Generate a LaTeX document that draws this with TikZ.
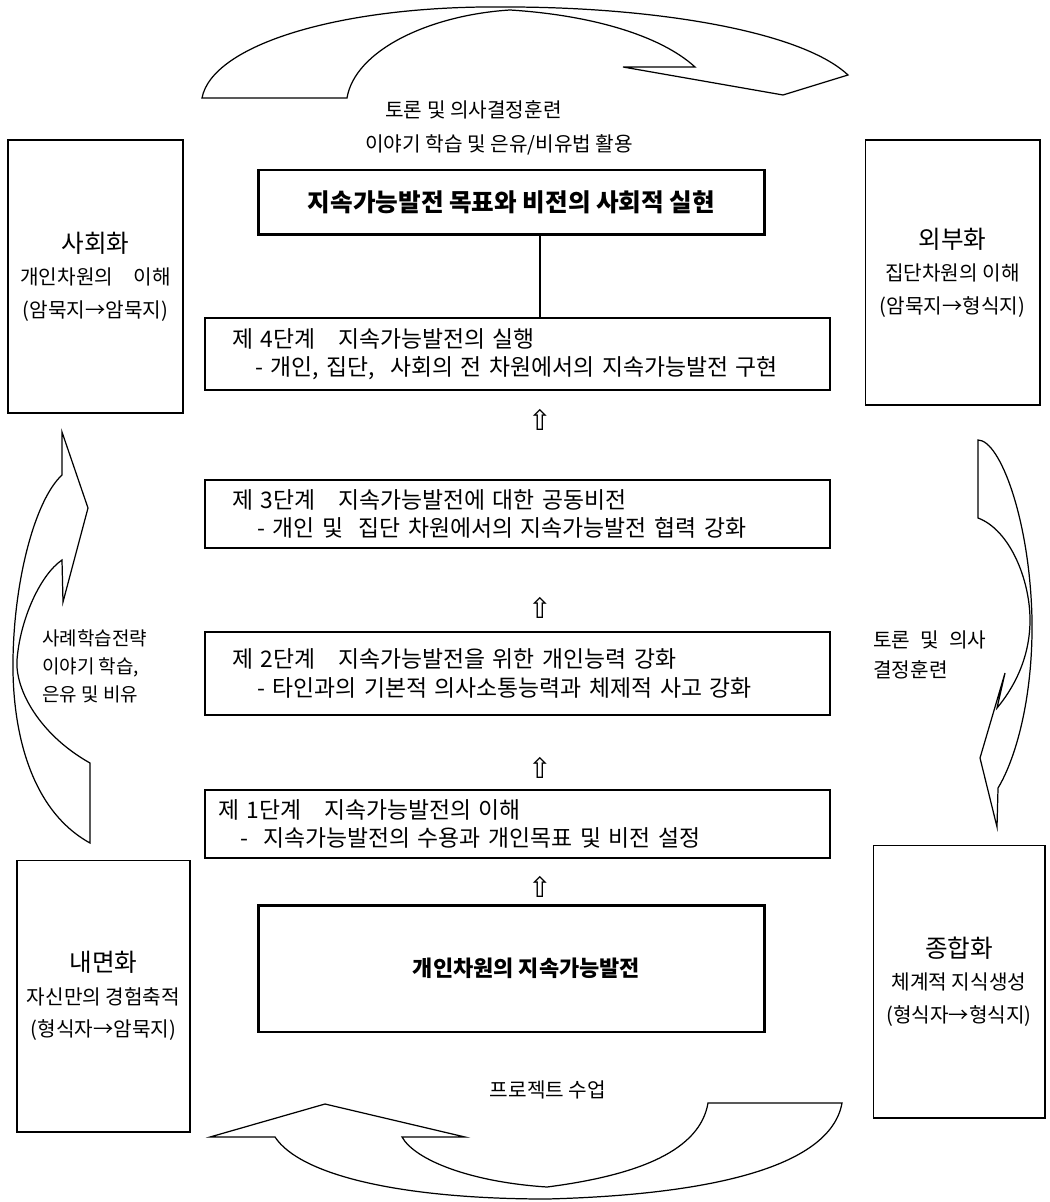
\documentclass[tikz,border=0pt]{standalone}
\usepackage{fontspec}
\setmainfont{Noto Sans CJK KR}
\newfontfamily\symfont{DejaVu Sans}
\tikzset{sb/.append style={draw,line width=1.3pt,minimum width=12.5cm,inner xsep=0.54cm,text width=11.42cm,align=left,font=\fontsize{13}{16}\selectfont}}
\tikzset{gb/.append style={draw,line width=1.7pt,minimum width=10.14cm,font=\fontsize{14}{16}\selectfont\bfseries}}
\tikzset{kb/.append style={draw,line width=0.6pt,minimum width=3.5cm,align=center,font=\fontsize{11.5}{18.5}\selectfont}}
\tikzset{ca/.append style={draw,line width=0.7pt,line join=miter}}
\tikzset{ua/.append style={font=\symfont\fontsize{16}{16}\selectfont}}
\tikzset{lb/.append style={inner sep=0pt,font=\fontsize{11.5}{17}\selectfont}}

\begin{document}
\begin{tikzpicture}[x=0.02cm,y=-0.02cm]
                \useasboundingbox (0,0) rectangle (1050,1202);
                % stages
                \node[gb,minimum height=1.3cm] (goal) at (511.5,202.5) {지속가능발전 목표와 비전의 사회적 실현};
                \node[sb,minimum height=1.44cm] (s4) at (517.5,354) {제 4단계\quad 지속가능발전의 실행\\\hspace*{0.46cm}- 개인, 집단,\ \ 사회의 전 차원에서의 지속가능발전 구현};
                \node[sb,minimum height=1.36cm] (s3) at (517.5,514) {제 3단계\quad 지속가능발전에 대한 공동비전\\\hspace*{0.5cm}- 개인 및\ \ 집단 차원에서의 지속가능발전 협력 강화};
                \node[sb,minimum height=1.66cm] (s2) at (517.5,673.5) {제 2단계\quad 지속가능발전을 위한 개인능력 강화\\\hspace*{0.5cm}- 타인과의 기본적 의사소통능력과 체제적 사고 강화};
                \node[sb,minimum height=1.36cm,inner xsep=0.26cm,text width=11.98cm] (s1) at (517.5,824) {제 1단계\quad 지속가능발전의 이해\\\hspace*{0.44cm}-\ \ 지속가능발전의 수용과 개인목표 및 비전 설정};
                \node[gb,minimum height=2.54cm,font=\fontsize{12.5}{16}\selectfont\bfseries] (base) at (511.5,968.5) {\hspace*{0.6cm}개인차원의 지속가능발전};
                \coordinate (lx) at (540,0);
                \draw[line width=0.6pt] (goal.south -| lx) -- (s4.north -| lx);
                \node[ua] (u4) at (540,420) {⇧};
                \node[ua] (u3) at (540,608) {⇧};
                \node[ua] (u2) at (540,768) {⇧};
                \node[ua] (u1) at (540,887) {⇧};
                % SECI boxes
                \node[kb,minimum height=5.46cm] (soc) at (95.5,276.5) {{\fontsize{14}{18}\selectfont 사회화}\\개인차원의\quad 이해\\(암묵지→암묵지)};
                \node[kb,minimum height=5.3cm] (ext) at (952.5,272.5) {{\fontsize{14}{18}\selectfont 외부화}\\집단차원의 이해\\(암묵지→형식지)};
                \node[kb,minimum width=3.46cm,minimum height=5.44cm] (int) at (103.5,996) {{\fontsize{14}{18}\selectfont 내면화}\\자신만의 경험축적\\(형식자→암묵지)};
                \node[kb,minimum width=3.44cm,minimum height=5.46cm] (com) at (959,981.5) {{\fontsize{14}{18}\selectfont 종합화}\\체계적 지식생성\\(형식자→형식지)};
                % labels
                \node[lb,anchor=west] (t1) at (385,110) {토론 및 의사결정훈련};
                \node[lb,anchor=west] (t2) at (365,145) {이야기 학습 및 은유/비유법 활용};
                \node[lb,anchor=west,align=left,font=\fontsize{10.8}{16}\selectfont] (lc) at (42,666) {사례학습전략\\이야기 학습,\\은유 및 비유};
                \node[lb,anchor=west,align=left,font=\fontsize{11.5}{17}\selectfont] (rc) at (873,655) {토론\enspace 및\enspace 의사\\결정훈련};
                \node[lb] (pj) at (548,1090) {프로젝트 수업};
                % curved arrows
                \draw[ca] (202,98) -- (347,98) .. controls (355,50) and (430,15) .. (510,10) .. controls (590,15) and (660,35) .. (695,67) -- (623,67) -- (783,95) -- (848,75) .. controls (800,30) and (650,7) .. (507,7) .. controls (340,5) and (212,45) .. (202,98) -- cycle;
                \draw[ca] (978,440) -- (978,518) .. controls (1010,530) and (1030,580) .. (1030,620) .. controls (1030,660) and (1012,690) .. (997,708) -- (1005,673) -- (980,758) -- (997,827) -- (998,788) .. controls (1015,760) and (1033,700) .. (1032,620) .. controls (1030,520) and (1000,440) .. (978,440) -- cycle;
                \draw[ca] (842,1103) -- (708,1103) .. controls (700,1150) and (640,1175) .. (547,1187) .. controls (470,1182) and (415,1160) .. (402,1137) -- (465,1137) -- (325,1104) -- (210,1137) -- (275,1137) .. controls (300,1175) and (400,1199) .. (547,1199) .. controls (700,1195) and (830,1170) .. (842,1103) -- cycle;
                \draw[ca] (90,843) -- (90,763) .. controls (40,735) and (15,690) .. (17,660) .. controls (20,620) and (40,575) .. (62,560) -- (63,602) -- (88,508) -- (62,432) -- (62,475) .. controls (35,500) and (14,580) .. (13,660) .. controls (12,730) and (30,810) .. (90,843) -- cycle;
            \end{tikzpicture}
\end{document}
